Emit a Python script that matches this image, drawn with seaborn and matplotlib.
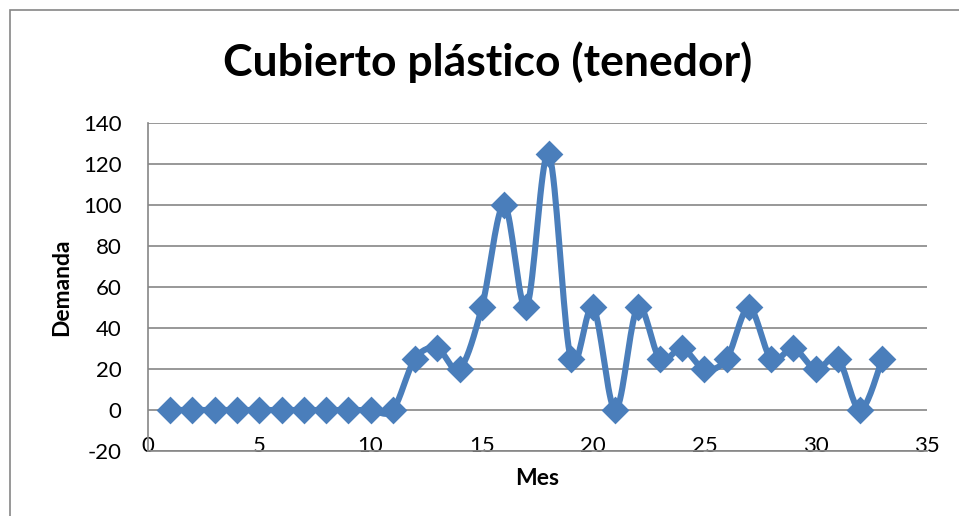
import numpy             as np
import matplotlib
matplotlib.use('Agg')
import matplotlib.pyplot as plt
import seaborn           as sns
from matplotlib.patches import Rectangle

# datos: demanda mensual
mes     = list(range(1, 34))
demanda = [0, 0, 0, 0, 0, 0, 0, 0, 0, 0, 0, 25, 30, 20, 50, 100, 50, 125,
           25, 50, 0, 50, 25, 30, 20, 25, 50, 25, 30, 20, 25, 0, 25]
x_ticks = [0, 5, 10, 15, 20, 25, 30, 35]
y_ticks = [-20, 0, 20, 40, 60, 80, 100, 120, 140]

azul = '#4A7EBB'
gris = '#868686'

sns.set_theme(style='white')
plt.rcParams['font.family'] = ['Lato', 'DejaVu Sans']
plt.rcParams['axes.unicode_minus'] = False
plt.rcParams['text.color'] = 'black'
plt.rcParams['axes.labelcolor'] = 'black'


def suavizar(x, y, n=20):
    # linea suavizada tipo Excel (Bezier con tangentes Catmull-Rom)
    p = np.column_stack([x, y]).astype(float)
    ext = np.vstack([p[0], p, p[-1]])
    t = np.linspace(0, 1, n)[:, None]
    out = []
    for i in range(len(p) - 1):
        p0, p3 = ext[i + 1], ext[i + 2]
        c1 = p0 + (ext[i + 2] - ext[i]) / 6
        c2 = p3 - (ext[i + 3] - ext[i + 1]) / 6
        seg = ((1 - t) ** 3) * p0 + 3 * ((1 - t) ** 2) * t * c1 \
            + 3 * (1 - t) * t ** 2 * c2 + t ** 3 * p3
        out.append(seg if i == 0 else seg[1:])
    out = np.vstack(out)
    return out[:, 0], out[:, 1]


fig = plt.figure(figsize=(9.59, 5.16), dpi=100)
ax = fig.add_axes([0.1543, 0.126, 0.8123, 0.6356])

xs, ys = suavizar(mes, demanda)
ax.plot(xs, ys, color=azul, lw=4.4, zorder=3, solid_capstyle='round')
sns.scatterplot(x=mes, y=demanda, marker='D', s=200, color=azul,
                edgecolor=azul, linewidth=0, zorder=4, ax=ax)

ax.set_xlim(0, 35)
ax.set_ylim(-20, 140)
ax.set_xticks(x_ticks)
ax.set_yticks(y_ticks)
ax.yaxis.grid(True, color=gris, lw=1.2)
ax.xaxis.grid(False)
for s in ['top', 'right']:
    ax.spines[s].set_visible(False)
for s in ['left', 'bottom']:
    ax.spines[s].set_color(gris)
    ax.spines[s].set_linewidth(1.2)
ax.tick_params(axis='both', length=0, labelsize=16, colors='black')
ax.tick_params(axis='x', pad=-11)
ax.tick_params(axis='y', pad=19)

ax.set_xlabel('Mes', fontsize=16.5, fontweight='bold', labelpad=9)
ax.set_ylabel('Demanda', fontsize=16.5, fontweight='bold', labelpad=8)
fig.text(0.508, 0.88, 'Cubierto plástico (tenedor)', ha='center', va='center',
         fontsize=32, fontweight='bold')

fig.patches.append(Rectangle((0.0105, -0.05), 1.2, 1.03, transform=fig.transFigure,
                             fill=False, edgecolor=gris, lw=1.2))

fig.savefig('out.png', dpi=100)
